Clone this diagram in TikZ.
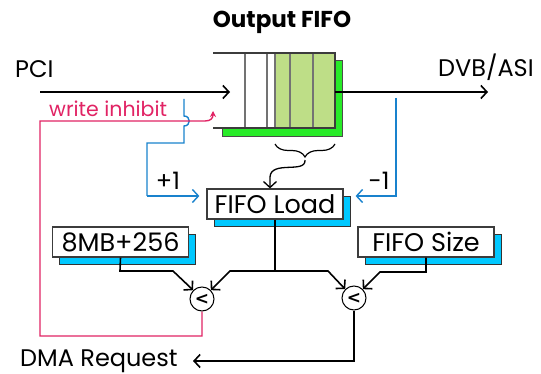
\documentclass[tikz,border=0pt]{standalone}
\usepackage{fontspec}
\setmainfont{Poppins}
\newfontfamily\cmpfont{DejaVu Sans}
\usetikzlibrary{arrows.meta, positioning, shadows, decorations.pathreplacing}
\usepackage{xcolor}
\definecolor{fifogreen}{RGB}{40,235,40}
\definecolor{cellgreen}{RGB}{190,222,135}
\definecolor{regcyan}{RGB}{0,200,255}
\definecolor{cntblue}{RGB}{25,130,205}
\definecolor{inhpink}{RGB}{225,35,100}
\definecolor{lnegray}{RGB}{60,60,60}

\begin{document}
\begin{tikzpicture}[x=1pt,y=-1pt,
  reg/.style={draw=lnegray,fill=white,line width=1.2pt,minimum width=136pt,
              minimum height=30pt,inner sep=0pt,font=\fontsize{25.5}{27}\selectfont,
              general shadow={shadow xshift=7pt,shadow yshift=-7pt,fill=regcyan,
                              draw=black!80,line width=0.8pt}},
  cmp/.style={circle,draw,line width=1pt,minimum size=24pt,inner sep=0pt,
              font=\cmpfont\bfseries\fontsize{17}{17}\selectfont},
  lbl/.style={font=\fontsize{24}{26}\selectfont,inner sep=0pt},
  arr/.style={-{Straight Barb[length=6pt,width=13pt]},line width=1.6pt},
  incr/.style={-{Straight Barb[length=6pt,width=13pt]},cntblue,line width=1.4pt},
  inhib/.style={-{Stealth[length=6pt,width=6pt]},inhpink,line width=1.4pt}
]
\useasboundingbox (0,0) rectangle (541,374);

% output fifo
\node[lbl,font=\fontsize{23}{26}\selectfont\bfseries,anchor=base] (title) at (282,28) {Output FIFO};
\filldraw[fill=fifogreen,draw=black!70,line width=0.8pt] (222,60) rectangle (342,136);
\fill[white] (213,53) rectangle (335,128);
\fill[cellgreen] (275,53) rectangle (335,128);
\foreach \x in {245,267,275,290,313}
  \draw[black!55,line width=1.2pt] (\x,53) -- (\x,128);
\draw[lnegray,line width=1.4pt] (213,53) -- (335,53) -- (335,128) -- (213,128);
\coordinate (fifoin) at (230,92);
\coordinate (fifoout) at (335,92);

% in / out
\node[lbl,anchor=base west] (pci) at (15,78) {PCI};
\node[lbl,anchor=base west] (dvb) at (438,77) {DVB/ASI};
\coordinate (pcisrc) at (40,92);
\coordinate (dvbdst) at (488,92);
\draw[arr] (pcisrc) -- (fifoin);
\draw[arr] (fifoout) -- (dvbdst);

% registers
\node[reg] (load) at (275,204) {FIFO Load};
\node[reg] (limit) at (120.5,242) {8MB+256};
\node[reg] (size) at (426,242) {FIFO Size};

% comparators
\node[cmp] (cmpa) at (202,299) {<};
\node[cmp] (cmpb) at (354,298) {<};

% fill level
\draw[decorate,decoration={brace,amplitude=13pt},line width=1.2pt] (335,144) -- (275,144);
\coordinate (bracetip) at (305,160);
\draw[arr,line width=1.3pt] (bracetip) .. controls (306,174) and (271,160) .. (270,177)
  -- ([xshift=-5pt]load.north);

% counters
\coordinate (tapin) at (184,99);
\coordinate (tapout) at (396,98);
\draw[incr,-] (tapin) -- (184,116) .. controls (191,116) and (191,126) .. (184,126) -- (184,143)
  -- (147,143) -- (147,196);
\draw[incr] (147,196) -- ([xshift=-7pt,yshift=8pt]load.west);
\node[lbl] (plus) at (168,181) {+1};
\draw[incr] (tapout) |- ([xshift=12pt,yshift=8pt]load.east);
\node[lbl] (minus) at (379,181) {-1};

% compare
\coordinate (split) at (275,271);
\draw[line width=1.6pt] (load.south) -- (split);
\draw[arr] (split) -- (230,271) -- (cmpa.north east);
\draw[arr] (split) -- (328,271) -- (cmpb.north west);
\draw[arr] (limit.south) -- (120,271) -- (173,271) -- (cmpa.north west);
\draw[arr] (size.south) -- (426,272) -- (380,272) -- (cmpb.north east);

% dma request
\node[lbl,anchor=base west] (dma) at (20,366) {DMA Request};
\coordinate (dmadst) at (193,361);
\draw[arr] (cmpb.south) |- (dmadst);

% write inhibit
\node[lbl,font=\fontsize{20.5}{22}\selectfont,text=inhpink,anchor=base west] (inh) at (49,117) {write inhibit};
\coordinate (inhdst) at (213,111);
\draw[inhib] (cmpa.south) -- (202,336) -- (40,336) -- (40,121) -- (205,121)
  .. controls (211,121) and (213,118) .. (inhdst);
\end{tikzpicture}
\end{document}
